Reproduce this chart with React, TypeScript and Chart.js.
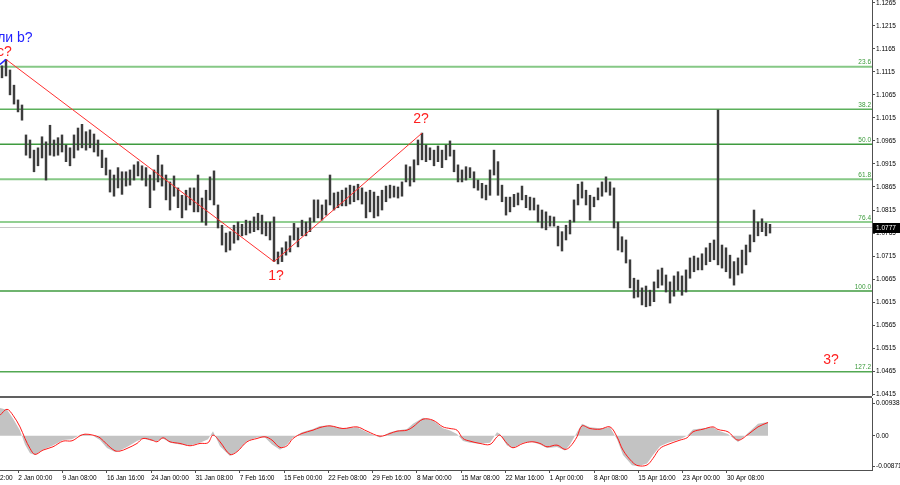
import React, { useEffect, useRef } from 'react';
import { Chart, registerables } from 'chart.js';

Chart.register(...registerables);

// ---- price data: one sample ≈ 3 H4 bars, high / low per sample ----
const highs = [
  1.1128, 1.1142, 1.1119, 1.1086, 1.1054, 1.1043, 1.0978, 1.0967, 1.0945, 1.0950,
  1.0974, 1.0963, 1.0999, 1.0967, 1.0972, 1.0978, 1.0956, 1.0950, 1.0978, 1.0993,
  1.1001, 1.0985, 1.0989, 1.0980, 1.0967, 1.0945, 1.0928, 1.0902, 1.0891, 1.0907,
  1.0898, 1.0898, 1.0902, 1.0913, 1.0920, 1.0911, 1.0907, 1.0891, 1.0902, 1.0934,
  1.0913, 1.0891, 1.0876, 1.0889, 1.0863, 1.0847, 1.0858, 1.0863, 1.0863, 1.0891,
  1.0841, 1.0858, 1.0887, 1.0900, 1.0826, 1.0782, 1.0765, 1.0768, 1.0782, 1.0789,
  1.0784, 1.0793, 1.0791, 1.0800, 1.0808, 1.0804, 1.0789, 1.0789, 1.0800, 1.0724,
  1.0733, 1.0746, 1.0759, 1.0786, 1.0776, 1.0793, 1.0789, 1.0798, 1.0837, 1.0837,
  1.0826, 1.0837, 1.0891, 1.0852, 1.0854, 1.0858, 1.0863, 1.0869, 1.0867, 1.0871,
  1.0863, 1.0854, 1.0858, 1.0854, 1.0845, 1.0858, 1.0867, 1.0869, 1.0867, 1.0865,
  1.0876, 1.0913, 1.0909, 1.0924, 1.0967, 1.0982, 1.0956, 1.0950, 1.0945, 1.0954,
  1.0945, 1.0956, 1.0965, 1.0945, 1.0913, 1.0902, 1.0909, 1.0907, 1.0898, 1.0880,
  1.0873, 1.0869, 1.0902, 1.0945, 1.0920, 1.0869, 1.0843, 1.0843, 1.0849, 1.0852,
  1.0867, 1.0847, 1.0843, 1.0841, 1.0826, 1.0815, 1.0811, 1.0802, 1.0800, 1.0780,
  1.0768, 1.0782, 1.0793, 1.0837, 1.0871, 1.0876, 1.0858, 1.0847, 1.0843, 1.0863,
  1.0876, 1.0887, 1.0876, 1.0863, 1.0789, 1.0757, 1.0750, 1.0707, 1.0667, 1.0663,
  1.0646, 1.0650, 1.0641, 1.0659, 1.0685, 1.0689, 1.0674, 1.0659, 1.0672, 1.0681,
  1.0672, 1.0685, 1.0711, 1.0715, 1.0711, 1.0720, 1.0733, 1.0743, 1.0750, 1.1032,
  1.0739, 1.0733, 1.0717, 1.0703, 1.0711, 1.0728, 1.0739, 1.0761, 1.0815, 1.0789,
  1.0796, 1.0787, 1.0784,
];
const lows = [
  1.1102, 1.1106, 1.1065, 1.1045, 1.1028, 1.1010, 1.0934, 1.0928, 1.0898, 1.0911,
  1.0928, 1.0880, 1.0934, 1.0932, 1.0934, 1.0941, 1.0920, 1.0911, 1.0928, 1.0945,
  1.0950, 1.0945, 1.0950, 1.0941, 1.0932, 1.0907, 1.0891, 1.0854, 1.0845, 1.0863,
  1.0849, 1.0867, 1.0869, 1.0880, 1.0889, 1.0880, 1.0867, 1.0820, 1.0858, 1.0876,
  1.0867, 1.0837, 1.0815, 1.0845, 1.0820, 1.0798, 1.0815, 1.0826, 1.0811, 1.0811,
  1.0789, 1.0782, 1.0837, 1.0826, 1.0776, 1.0739, 1.0724, 1.0728, 1.0743, 1.0750,
  1.0759, 1.0761, 1.0765, 1.0768, 1.0772, 1.0763, 1.0759, 1.0750, 1.0703, 1.0698,
  1.0703, 1.0717, 1.0724, 1.0750, 1.0735, 1.0759, 1.0759, 1.0768, 1.0789, 1.0798,
  1.0793, 1.0804, 1.0826, 1.0815, 1.0820, 1.0824, 1.0824, 1.0828, 1.0833, 1.0837,
  1.0828, 1.0798, 1.0811, 1.0798, 1.0802, 1.0815, 1.0833, 1.0841, 1.0843, 1.0841,
  1.0845, 1.0876, 1.0867, 1.0876, 1.0913, 1.0924, 1.0920, 1.0924, 1.0911, 1.0920,
  1.0907, 1.0924, 1.0932, 1.0898, 1.0876, 1.0876, 1.0880, 1.0885, 1.0863, 1.0858,
  1.0841, 1.0837, 1.0847, 1.0891, 1.0847, 1.0833, 1.0804, 1.0811, 1.0822, 1.0826,
  1.0837, 1.0820, 1.0815, 1.0815, 1.0789, 1.0776, 1.0772, 1.0780, 1.0780, 1.0737,
  1.0726, 1.0750, 1.0763, 1.0789, 1.0826, 1.0841, 1.0826, 1.0793, 1.0822, 1.0837,
  1.0845, 1.0854, 1.0847, 1.0776, 1.0728, 1.0724, 1.0700, 1.0646, 1.0624, 1.0626,
  1.0609, 1.0605, 1.0607, 1.0616, 1.0646, 1.0652, 1.0637, 1.0613, 1.0628, 1.0641,
  1.0630, 1.0637, 1.0667, 1.0681, 1.0685, 1.0685, 1.0696, 1.0703, 1.0707, 1.0696,
  1.0689, 1.0681, 1.0667, 1.0652, 1.0674, 1.0678, 1.0696, 1.0724, 1.0746, 1.0759,
  1.0768, 1.0759, 1.0765,
];

const priceTicks = [
  1.0415, 1.0465, 1.0515, 1.0565, 1.0615, 1.0665, 1.0715, 1.0765, 1.0815,
  1.0865, 1.0915, 1.0965, 1.1015, 1.1065, 1.1115, 1.1165, 1.1215, 1.1265,
];
const lastPrice = 1.0777;

const fibLevels = [1.1126, 1.1034, 1.0958, 1.0882, 1.0789, 1.0639, 1.0464];
const fibNames = ['23.6', '38.2', '50.0', '61.8', '76.4', '100.0', '127.2'];
const fibColors = ['#86c886', '#5cb05c', '#3f9b3f', '#86c886', '#92cf92', '#3f9b3f', '#52a852'];

// wave markup: sample index of turning points
const redWaveIdx = [1, 68, 105];
const blueWaveX = [-0.5, 1];
const blueWaveY = [1.1131, 1.1142];

const waveTexts = ['или b?', 'c?', '1?', '2?', '3?'];
const waveColors = ['#2323ff', '#ff2020', '#ff2020', '#ff2020', '#ff2020'];
const waveX = [2.25, 0.6, 68.5, 104.75, 207.25];
const waveY = [1.1188, 1.1157, 1.0672, 1.1013, 1.0489];

// ---- time axis ----
const timeLabels = [
  '21 Dec 12:00', '2 Jan 00:00', '9 Jan 08:00', '16 Jan 16:00', '24 Jan 00:00',
  '31 Jan 08:00', '7 Feb 16:00', '15 Feb 00:00', '22 Feb 08:00', '29 Feb 16:00',
  '8 Mar 00:00', '15 Mar 08:00', '22 Mar 16:00', '1 Apr 00:00', '8 Apr 08:00',
  '15 Apr 16:00', '23 Apr 00:00', '30 Apr 08:00',
];
const TIME_FIRST = -6.9975; // sample position of first (clipped) label
const TIME_STEP = 11.0725; // 32 H4 bars in samples

// ---- oscillator (sample position, histogram, signal) ----
const oscX = [
  -0.5, 1.25, 2.75, 4.5, 5.75, 7, 8.25, 10.25, 12.75, 15.25, 17.5, 19.5, 20.75, 22.75,
  24.5, 26.25, 28.25, 29.5, 31.25, 33.75, 35.25, 37.5, 38.75, 40.25, 42, 44.5, 47, 49.5,
  51.5, 52.75, 54.5, 57, 58.75, 61.25, 63.75, 65.75, 67.5, 69.5, 71.25, 72.75, 75, 77.75,
  79.5, 82, 85.25, 88.75, 91.25, 94.5, 97, 98.75, 101.25, 102.75, 105.25, 107.75, 110.25,
  112, 113.75, 115.25, 117, 119.5, 122, 123.75, 124.5, 126.25, 127.75, 130.25, 132.5,
  134.5, 136.25, 138.75, 140.75, 142, 143.75, 145, 147, 149.5, 152, 153.75, 155.25,
  157.5, 159, 161.25, 162.75, 164.5, 166.5, 169.5, 171.25, 172.75, 175.25, 177.75, 179,
  181.5, 184, 186.5, 189, 191.5,
];
const oscHist = [
  0.008, 0.0075, 0.005, 0.0015, -0.0025, -0.005, -0.0055, -0.004, -0.0028, -0.0012,
  -0.001, 0.0003, 0.0005, 0.0, -0.0012, -0.0035, -0.0047, -0.0042, -0.0032, -0.0015,
  -0.0008, -0.0015, -0.0015, -0.0008, -0.002, -0.0025, -0.0028, -0.002, -0.001, 0.0013,
  -0.003, -0.0058, -0.0045, -0.0015, -0.0005, -0.0005, -0.0025, -0.004, -0.0025, -0.0005,
  0.001, 0.002, 0.0028, 0.003, 0.0022, 0.0025, 0.001, -0.0005, 0.001, 0.0015,
  0.002, 0.0035, 0.0052, 0.0045, 0.0022, 0.0015, 0.0005, -0.0015, -0.002, -0.0023,
  -0.002, 0.001, 0.0005, -0.0028, -0.0035, -0.002, -0.0018, -0.0025, -0.0035, -0.0032,
  -0.0042, -0.0025, 0.001, 0.0035, 0.0025, 0.0022, 0.0025, -0.001, -0.0055, -0.0085,
  -0.0088, -0.008, -0.0055, -0.003, -0.002, -0.001, 0.0, 0.0018, 0.0022, 0.0025,
  0.0015, 0.0005, -0.0018, 0.0008, 0.0035, 0.004,
];
const oscSignal = [
  0.00593, 0.00766, 0.00593, 0.00258, -0.00077, -0.00364, -0.00536, -0.00412, -0.00316,
  -0.00153, -0.00144, 0, 0.00048, 0.00019, -0.00057, -0.00249, -0.00431, -0.0044,
  -0.00364, -0.0022, -0.00077, -0.00124, -0.00172, -0.00057, -0.00172, -0.0022,
  -0.00287, -0.0022, -0.00201, 0.00019, -0.00172, -0.00536, -0.00459, -0.00172,
  -0.00077, -0.00029, -0.00124, -0.00335, -0.00287, -0.00077, 0.00067, 0.00163,
  0.00239, 0.00287, 0.00211, 0.00258, 0.00134, -0.0001, 0.00067, 0.00134, 0.00163,
  0.00258, 0.00479, 0.0045, 0.00258, 0.00211, 0.00163, -0.00077, -0.00153, -0.0022,
  -0.00249, -0.00029, 0.00019, -0.0022, -0.00345, -0.0022, -0.00172, -0.0022, -0.00316,
  -0.00268, -0.00392, -0.00316, -0.00029, 0.00287, 0.00211, 0.00191, 0.00258, -0.00029,
  -0.00412, -0.00746, -0.00861, -0.00842, -0.00651, -0.00364, -0.00249, -0.00124,
  -0.00057, 0.00115, 0.00191, 0.00258, 0.00182, 0.00115, -0.00124, 0.00038, 0.00258,
  0.00383,
];
const oscTicks = [-0.00871, 0, 0.00938];

// ---- scale ranges ----
const X_MIN = -0.5;
const X_MAX = 217.5;
const Y_MIN = 1.04113;
const Y_MAX = 1.12709;
const OSC_MIN = -0.00986;
const OSC_MAX = 0.01091;

const SMALL_FONT = "'Liberation Sans', Arial, sans-serif";
const AXIS_W = 28;

export default function App() {
  const mainRef = useRef<HTMLCanvasElement>(null);
  const oscRef = useRef<HTMLCanvasElement>(null);

  useEffect(() => {
    document.body.style.margin = '0';
    const mainCanvas = mainRef.current!;
    const oscCanvas = oscRef.current!;

    const fibDatasets = fibLevels.map((lvl, i) => ({
      type: 'line' as const,
      data: [
        { x: X_MIN, y: lvl },
        { x: X_MAX, y: lvl },
      ],
      borderColor: fibColors[i],
      borderWidth: i === 0 || i === 3 || i === 4 ? 2 : 1.5,
      pointRadius: 0,
      order: 5,
    }));

    const overlayPlugin = {
      id: 'overlay',
      afterDatasetsDraw(chart: any) {
        const { ctx, chartArea, scales } = chart;
        const xs = scales.x;
        const ys = scales.y;
        ctx.save();
        // fib level labels
        ctx.font = `6.5px ${SMALL_FONT}`;
        ctx.textAlign = 'right';
        ctx.textBaseline = 'bottom';
        fibLevels.forEach((lvl, i) => {
          ctx.fillStyle = '#3a9a3a';
          ctx.fillText(fibNames[i], chartArea.right - 1, ys.getPixelForValue(lvl) - 1);
        });
        // wave labels
        ctx.font = `14px Arial, 'Liberation Sans', sans-serif`;
        ctx.textAlign = 'center';
        ctx.textBaseline = 'middle';
        waveTexts.forEach((t, i) => {
          ctx.fillStyle = waveColors[i];
          ctx.fillText(t, xs.getPixelForValue(waveX[i]), ys.getPixelForValue(waveY[i]));
        });
        ctx.restore();
      },
      afterDraw(chart: any) {
        const { ctx, chartArea, scales } = chart;
        const y = scales.y.getPixelForValue(lastPrice);
        ctx.save();
        ctx.fillStyle = '#000';
        ctx.fillRect(chartArea.right + 1, Math.round(y) - 5, 28, 10);
        ctx.fillStyle = '#fff';
        ctx.font = `6.5px ${SMALL_FONT}`;
        ctx.textAlign = 'left';
        ctx.textBaseline = 'middle';
        ctx.fillText(lastPrice.toFixed(4), chartArea.right + 4, Math.round(y));
        ctx.restore();
      },
    };

    const main = new Chart(mainCanvas, {
      type: 'bar',
      data: {
        datasets: [
          {
            type: 'line',
            data: redWaveIdx.map((idx, k) => ({ x: idx, y: k === 1 ? lows[idx] : highs[idx] })),
            borderColor: '#ff3030',
            borderWidth: 1,
            pointRadius: 0,
            order: 0,
          } as any,
          {
            type: 'line',
            data: blueWaveX.map((x, k) => ({ x, y: blueWaveY[k] })),
            borderColor: '#2323ff',
            borderWidth: 1.5,
            pointRadius: 0,
            order: 0,
          } as any,
          {
            type: 'bar',
            data: highs.map((h, i) => ({ x: i, y: [lows[i], h] })),
            backgroundColor: '#3c3c3c',
            borderWidth: 0,
            barThickness: 1.8,
            order: 2,
          } as any,
          {
            type: 'line',
            data: [
              { x: X_MIN, y: lastPrice },
              { x: X_MAX, y: lastPrice },
            ],
            borderColor: '#c8c8c8',
            borderWidth: 1,
            pointRadius: 0,
            order: 6,
          } as any,
          ...(fibDatasets as any[]),
        ],
      },
      options: {
        animation: false,
        responsive: false,
        maintainAspectRatio: false,
        layout: { padding: 0 },
        plugins: { legend: { display: false }, tooltip: { enabled: false } },
        events: [],
        scales: {
          x: { type: 'linear', min: X_MIN, max: X_MAX, display: false, offset: false },
          y: {
            type: 'linear',
            position: 'right',
            min: Y_MIN,
            max: Y_MAX,
            afterBuildTicks: (s: any) => {
              s.ticks = priceTicks.map((v) => ({ value: v }));
            },
            afterFit: (s: any) => {
              s.width = AXIS_W;
              s.paddingTop = 0;
              s.paddingBottom = 0;
            },
            grid: { drawOnChartArea: false, drawTicks: true, tickLength: 3, color: '#505050' },
            border: { display: true, color: '#505050', width: 1 },
            ticks: {
              color: '#000',
              padding: 1,
              font: { family: SMALL_FONT, size: 6.5 },
              callback: (v: any) => Number(v).toFixed(4),
            },
          },
        },
      } as any,
      plugins: [overlayPlugin],
    });

    const oscFrame = {
      id: 'oscFrame',
      beforeDraw(chart: any) {
        const { ctx, chartArea } = chart;
        ctx.save();
        ctx.fillStyle = '#606060';
        ctx.fillRect(0, 0, chartArea.right, 2);
        ctx.restore();
      },
    };

    const osc = new Chart(oscCanvas, {
      type: 'line',
      data: {
        datasets: [
          {
            data: oscX.map((x, i) => ({ x, y: oscSignal[i] })),
            borderColor: '#ff1a1a',
            borderWidth: 1,
            pointRadius: 0,
            tension: 0.35,
            fill: false,
            order: 0,
          },
          {
            data: oscX.map((x, i) => ({ x, y: oscHist[i] })),
            borderWidth: 0,
            borderColor: 'rgba(0,0,0,0)',
            backgroundColor: '#c3c3c3',
            pointRadius: 0,
            tension: 0,
            fill: 'origin',
            order: 1,
          },
        ],
      },
      options: {
        animation: false,
        responsive: false,
        maintainAspectRatio: false,
        layout: { padding: { top: 2 } },
        plugins: { legend: { display: false }, tooltip: { enabled: false } },
        events: [],
        scales: {
          x: {
            type: 'linear',
            min: X_MIN,
            max: X_MAX,
            offset: false,
            afterBuildTicks: (s: any) => {
              s.ticks = timeLabels.map((_, k) => ({ value: TIME_FIRST + k * TIME_STEP }));
            },
            afterFit: (s: any) => {
              s.height = 15;
              s.paddingLeft = 0;
              s.paddingRight = 0;
            },
            grid: { drawOnChartArea: false, drawTicks: true, tickLength: 3, color: '#505050' },
            border: { display: true, color: '#505050', width: 1 },
            ticks: {
              color: '#000',
              padding: 1,
              align: 'start',
              maxRotation: 0,
              minRotation: 0,
              autoSkip: false,
              font: { family: SMALL_FONT, size: 6.5 },
              callback: (_v: any, i: number) => timeLabels[i],
            },
          },
          y: {
            type: 'linear',
            position: 'right',
            min: OSC_MIN,
            max: OSC_MAX,
            afterBuildTicks: (s: any) => {
              s.ticks = oscTicks.map((v) => ({ value: v }));
            },
            afterFit: (s: any) => {
              s.width = AXIS_W;
              s.paddingTop = 0;
              s.paddingBottom = 0;
            },
            grid: { drawOnChartArea: false, drawTicks: true, tickLength: 3, color: '#505050' },
            border: { display: true, color: '#505050', width: 1 },
            ticks: {
              color: '#000',
              padding: 1,
              font: { family: SMALL_FONT, size: 6.5 },
              callback: (v: any) => (Number(v) === 0 ? '0.00' : Number(v).toFixed(5)),
            },
          },
        },
      } as any,
      plugins: [oscFrame],
    });

    return () => {
      main.destroy();
      osc.destroy();
    };
  }, []);

  return (
    <div style={{ position: 'fixed', left: 0, top: 0, width: 900, height: 485, background: '#fff' }}>
      <canvas
        ref={mainRef}
        width={900}
        height={396}
        style={{ position: 'absolute', left: 0, top: 0, width: 900, height: 396 }}
      />
      <canvas
        ref={oscRef}
        width={900}
        height={89}
        style={{ position: 'absolute', left: 0, top: 396, width: 900, height: 89 }}
      />
    </div>
  );
}
